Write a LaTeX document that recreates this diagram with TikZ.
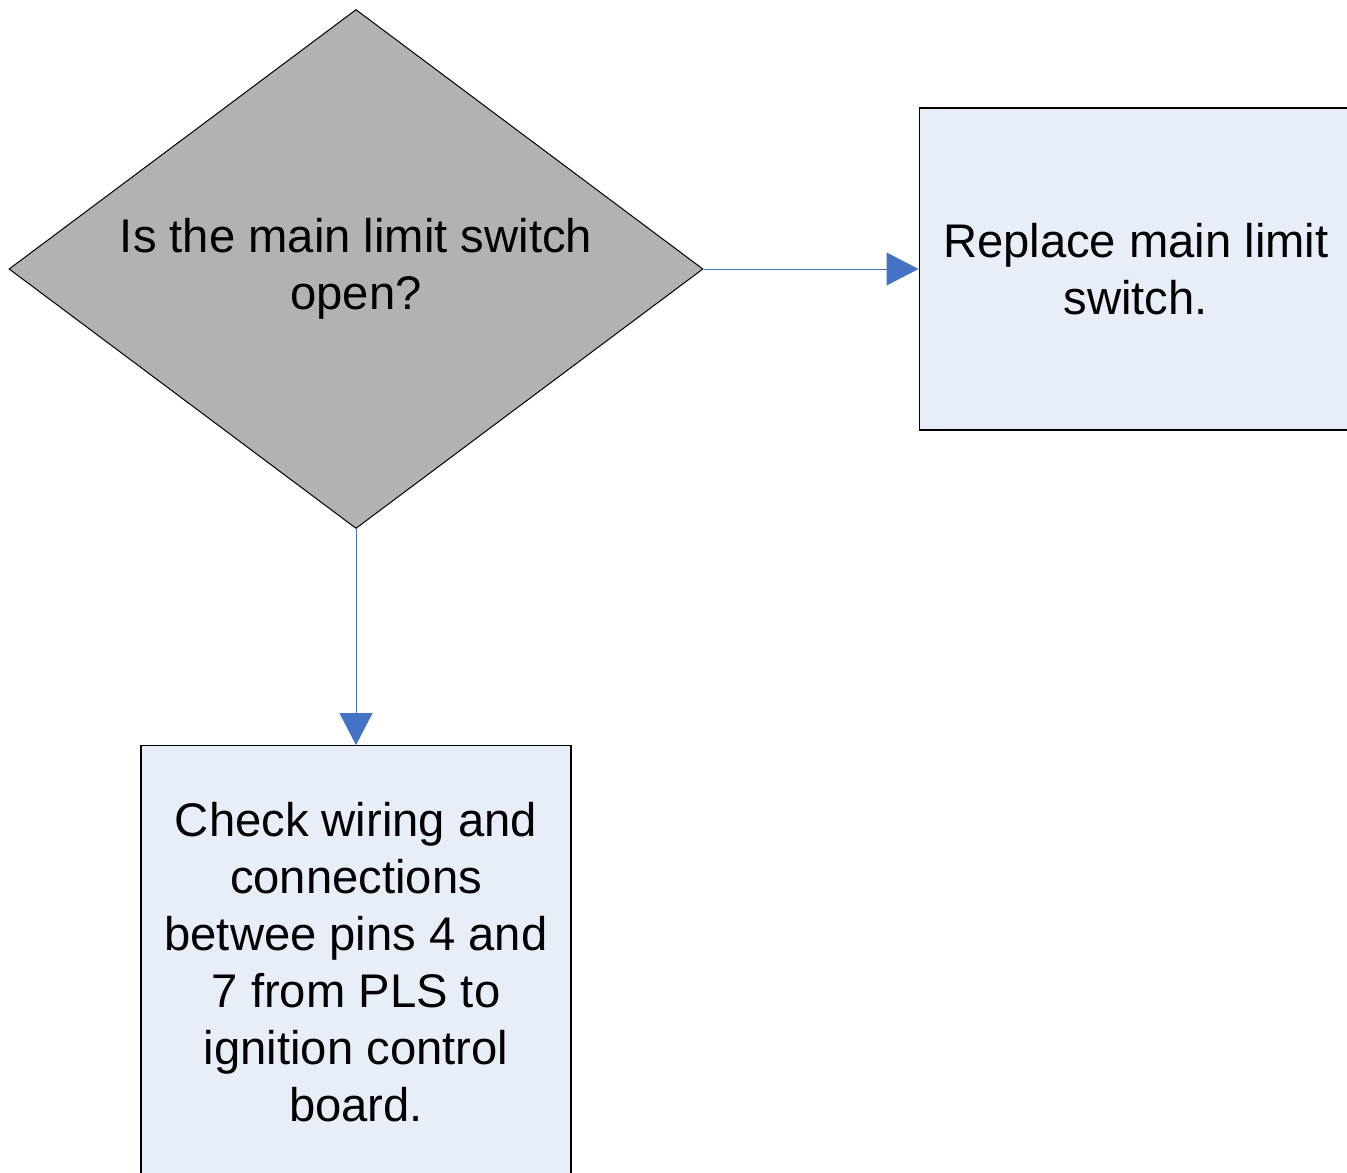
\documentclass[tikz,border=0pt]{standalone}
\usepackage{fontspec}
\setmainfont{Liberation Sans}
\usepackage{xcolor}
\usetikzlibrary{arrows.meta,positioning,shapes.geometric}
\definecolor{decisiongray}{HTML}{B2B2B2}
\definecolor{procfill}{HTML}{E8EEF8}
\definecolor{arrowblue}{HTML}{4472C4}
\tikzset{
  flowdecision/.style = {
    diamond,
    draw,
    fill=decisiongray,
    line width=0.75pt,
    aspect=1.337,
    align=center,
    inner sep=0pt,
    minimum width=520.5pt,
    minimum height=389.25pt,
    font=\fontsize{35.4}{42.75}\selectfont
  },
  flowproc/.style = {
    rectangle,
    draw,
    fill=procfill,
    line width=1pt,
    align=center,
    inner sep=0pt,
    font=\fontsize{35.4}{42.75}\selectfont
  },
  flowarrow/.style = {
    -{Triangle[length=24pt,width=24.75pt]},
    draw=arrowblue,
    fill=arrowblue,
    line width=0.75pt
  }
}

\begin{document}
\begin{tikzpicture}[x=0.75pt,y=-0.75pt]
    \useasboundingbox (0,0) rectangle (1347,1172);
    \clip (0,0) rectangle (1347,1172);
    \node[flowdecision] (switchq) at (356,269) {Is the main limit switch\\open?};
    \node[flowproc, minimum width=325pt, minimum height=241.5pt, right=161.25pt of switchq] (replace) {Replace main limit\\switch.};
    \node[flowproc, minimum width=322.5pt, minimum height=324pt, below=162pt of switchq] (checkwire) {Check wiring and\\connections\\betwee pins 4 and\\7 from PLS to\\ignition control\\board.};
    \draw[flowarrow] (switchq) -- (replace);
    \draw[flowarrow] (switchq) -- (checkwire);
  \end{tikzpicture}
\end{document}
